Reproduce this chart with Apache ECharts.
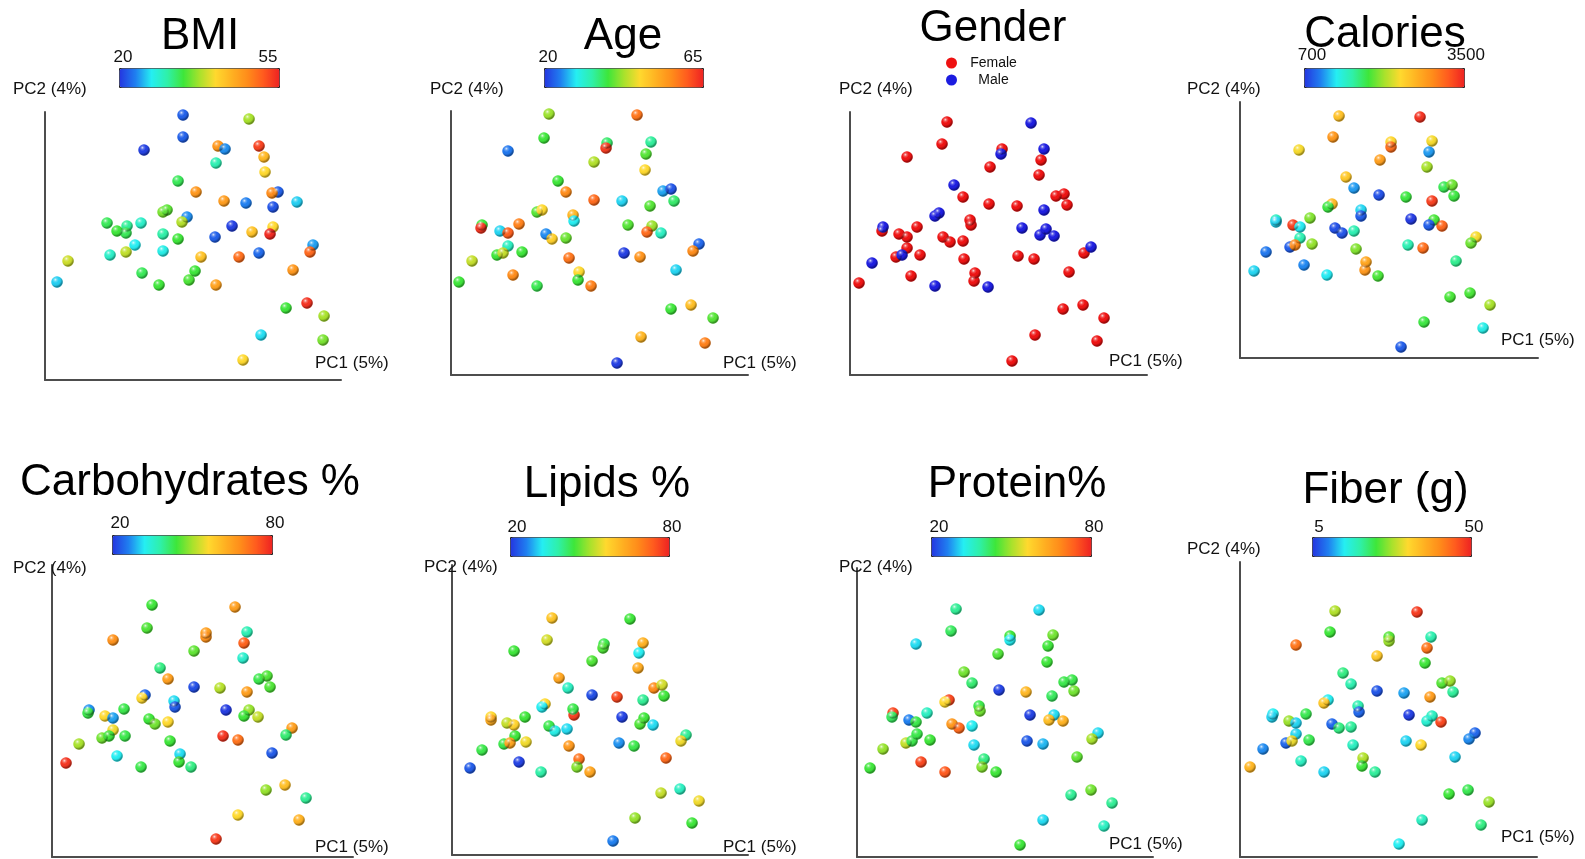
<!DOCTYPE html>
<html>
<head>
<meta charset="utf-8">
<script src="https://cdn.jsdelivr.net/npm/echarts@6/dist/echarts.min.js"></script>
<style>
  html, body { margin: 0; padding: 0; background: #ffffff; }
  #chart { width: 1585px; height: 859px; }
</style>
</head>
<body>
<div id="chart"></div>
<script>
// PCoA ordination of the cohort, shown from eight angles.
// Each sample is [PC1 score, PC2 score, value of the colouring variable].
const bmiPoints = [
  [138,265,22],[204,261,37.5],[138,243,22],[99,230,20.5],[173,234,47],[180,231,24],[214,234,53],[219,223,44],
  [171,217,30],[220,208,41],[133,199,33],[151,188,47],[233,188,22],[227,187,48],[179,179,46.5],[201,177,23.5],
  [252,178,26],[228,173,21.5],[118,168,36],[122,170,35],[142,163,24],[137,158,38],[62,157,33],[82,154,31],
  [96,157,29],[72,149,34],[81,147,33],[187,154,20.5],[228,153,41],[207,148,43],[225,146,54.5],[118,146,30.5],
  [133,141,34],[170,143,22],[90,135,27],[268,135,24.5],[265,128,50.5],[65,125,29],[81,128,38.5],[118,129,27.5],
  [156,123,43],[194,123,50],[214,127,22.5],[23,119,39],[248,110,47],[150,109,34],[12,98,26],[97,107,33],
  [144,100,34.5],[114,95,34],[171,95,46],[262,77,54],[241,72,34],[279,64,37.5],[216,45,26.5],[278,40,36],[198,20,41]
];
const agePoints = [
  [98,261,42],[186,260,58],[93,237,38],[57,224,24],[156,232,36],[155,227,63],[200,233,34],[195,221,39],
  [143,213,43],[194,205,47],[107,194,38],[115,183,56],[143,175,59],[171,174,28],[212,184,26],[220,186,22],
  [223,174,36],[199,169,39],[86,163,39],[91,165,47],[122,160,51],[123,154,29],[31,150,38],[30,147,63.5],
  [49,144,28],[57,142,60],[68,151,57],[177,150,39],[201,149,42],[196,143,59],[210,142,32],[95,141,25],
  [101,136,48],[115,137,40],[57,129,32],[46,120,38],[52,122,44],[71,123,38],[173,122,20.5],[189,118,55],
  [248,131,23],[242,124,56],[118,117,58],[21,114,44],[128,103,47],[127,95,38],[62,100,56],[225,105,28],
  [8,93,38],[86,89,37],[140,89,57],[220,66,38],[240,70,50],[262,57,39],[190,38,51],[254,32,57],[166,12,20.5]
];
// F = female, M = male
const genderPoints = [
  [97,253,'F'],[181,252,'M'],[92,231,'F'],[194,226,'M'],[152,226,'F'],[151,221,'M'],[57,218,'F'],[191,215,'F'],
  [140,208,'F'],[189,200,'F'],[104,190,'M'],[113,178,'F'],[206,179,'F'],[214,181,'F'],[139,171,'F'],[167,169,'F'],
  [217,170,'F'],[194,165,'M'],[85,159,'M'],[89,162,'M'],[120,155,'F'],[121,150,'F'],[33,148,'M'],[32,144,'F'],
  [49,141,'F'],[57,138,'F'],[67,148,'F'],[172,147,'M'],[196,146,'M'],[190,140,'M'],[204,139,'M'],[93,138,'F'],
  [100,133,'F'],[113,134,'F'],[57,127,'F'],[46,118,'F'],[52,120,'M'],[70,120,'F'],[168,119,'F'],[184,116,'F'],
  [241,128,'M'],[234,122,'F'],[114,116,'F'],[22,112,'M'],[125,102,'F'],[124,94,'F'],[61,99,'F'],[219,103,'F'],
  [9,92,'F'],[85,89,'M'],[138,88,'M'],[213,66,'F'],[233,70,'F'],[254,57,'F'],[185,40,'F'],[247,34,'F'],[162,14,'F']
];
const caloriesPoints = [
  [99,242,2550],[180,241,3420],[93,221,2850],[59,208,2350],[151,216,2400],[151,211,3100],[192,217,2350],[189,206,1050],
  [140,198,2800],[187,191,2100],[106,181,2500],[114,170,1050],[139,163,800],[166,161,1800],[204,171,1750],[212,173,1950],
  [214,162,1800],[192,157,3350],[92,154,2600],[88,151,1800],[121,148,1200],[121,142,850],[36,138,1450],[36,136,1200],
  [53,133,3350],[60,131,1250],[70,140,2000],[171,139,720],[194,138,1850],[189,133,850],[202,132,3150],[95,130,800],
  [102,125,820],[114,127,1500],[60,120,1500],[50,111,850],[55,113,2950],[72,114,2050],[168,113,1500],[183,110,3100],
  [236,121,2350],[231,115,1950],[116,109,2000],[26,106,950],[126,96,2750],[125,88,2850],[64,93,1000],[216,97,1600],
  [14,87,1200],[87,83,1250],[138,82,1850],[210,61,1850],[230,65,1850],[250,53,2100],[184,36,1800],[243,30,1300],[161,11,850]
];
const carbsPoints = [
  [100,252,44],[183,250,65],[95,229,45],[61,217,67],[154,224,65],[154,220,67],[195,225,37],[192,214,73],
  [142,206,46],[191,199,35],[108,189,40],[116,178,65],[142,170,22],[168,169,51],[207,178,43],[215,181,45],
  [218,170,45],[195,165,65],[93,162,24],[90,159,56],[122,156,31],[123,150,23],[37,147,27],[36,144,43],
  [53,141,56],[61,139,28],[72,148,43],[174,147,20.5],[197,147,49],[192,141,44],[206,140,52],[97,138,44],
  [103,133,47],[116,135,56],[61,127,55],[50,119,47],[57,121,44],[73,121,43],[171,121,78],[186,117,71],
  [240,129,65],[234,122,41],[118,116,44],[27,113,50],[128,103,31],[127,95,44],[65,101,32],[220,104,23],
  [14,94,78],[89,90,43],[139,90,40],[214,67,49],[233,72,60],[254,59,39],[186,42,56],[247,37,62],[164,18,77]
];
const lipidsPoints = [
  [100,237,59],[178,236,44],[95,215,53],[62,204,44],[152,211,43],[151,207,45],[191,212,62],[187,202,32],
  [140,194,45],[186,187,63],[107,177,64],[116,167,36],[140,160,22],[165,158,76],[202,167,68],[210,170,53],
  [212,159,44],[191,155,39],[93,151,56],[90,148,32],[122,140,77],[121,146,43],[39,138,56],[39,135,63],
  [55,132,52],[62,130,57],[73,138,44],[170,138,21],[192,137,44],[188,131,45],[201,130,31],[97,129,43],
  [103,124,33],[115,126,31],[63,119,44],[52,111,43],[58,112,64],[74,113,55],[167,112,27],[182,109,43],
  [234,120,39],[229,114,55],[117,109,66],[30,105,43],[127,96,71],[125,88,48],[67,93,21],[214,97,72],
  [18,87,23],[89,83,38],[138,83,64],[209,62,52],[228,66,36],[247,54,55],[183,37,49],[240,32,44],[161,14,26]
];
const proteinPoints = [
  [99,248,39],[182,247,31],[94,226,42],[59,213,31],[153,221,44],[153,217,32],[196,222,47],[191,211,44],
  [141,203,45],[190,195,44],[107,185,47],[115,174,41],[142,167,21],[169,165,61],[207,175,43],[215,177,43],
  [217,166,47],[195,161,42],[92,157,76],[88,155,56],[122,151,43],[123,146,47],[36,144,76],[35,140,42],
  [52,137,26],[59,135,43],[70,144,36],[173,142,21],[197,142,31],[192,137,60],[206,136,62],[95,133,66],
  [102,129,72],[115,131,32],[60,123,43],[49,114,52],[55,116,43],[73,117,44],[170,116,23],[186,113,29],
  [241,124,31],[235,118,50],[117,112,31],[26,108,49],[127,98,40],[125,90,48],[64,95,76],[220,100,46],
  [13,89,44],[88,85,74],[139,85,44],[214,62,39],[234,67,47],[255,54,39],[186,37,31],[247,31,36],[163,12,44]
];
const fiberPoints = [
  [95,246,28],[177,245,48],[90,225,23],[56,212,43],[149,220,24],[149,216,27],[191,220,18],[187,209,43],
  [137,201,34],[185,194,23],[103,184,20],[111,173,18],[137,166,7],[164,164,11],[202,174,24],[210,176,27],
  [213,165,19],[190,160,39],[88,157,14],[84,154,34],[118,151,18],[119,145,8],[33,143,14],[32,140,13],
  [49,136,27],[56,134,13],[66,143,22],[169,142,5.5],[192,141,17],[187,136,16],[201,135,47],[92,133,8],
  [99,129,20],[111,130,19],[56,123,13],[46,114,8],[52,116,31],[69,117,22],[166,116,13],[181,112,32],
  [235,124,8],[229,118,10],[113,112,17],[23,108,10],[123,99,28],[122,91,23],[61,96,17],[215,100,13],
  [10,90,36],[84,85,13],[135,85,19],[209,63,23],[228,67,22],[249,55,27],[182,37,17],[241,32,20],[159,13,14]
];

// Colour scale ranges and the labels at the ends of each colour bar
const bmiRange = [20, 55];
const ageRange = [20, 65];
const caloriesRange = [700, 3500];
const carbsRange = [20, 80];
const lipidsRange = [20, 80];
const proteinRange = [20, 80];
const fiberRange = [5, 50];
const bmiTicks = ['20', '55'];
const ageTicks = ['20', '65'];
const caloriesTicks = ['700', '3500'];
const carbsTicks = ['20', '80'];
const lipidsTicks = ['20', '80'];
const proteinTicks = ['20', '80'];
const fiberTicks = ['5', '50'];
const genderGroups = ['Female', 'Male'];
const axisNames = ['PC1 (5%)', 'PC2 (4%)'];

// ---- styling and layout ----
const FONT = '"Liberation Sans", Arial, Helvetica, sans-serif';
const RAMP = ['#2436e0', '#1f7ff0', '#25eef2', '#2ff0a8', '#3ee63a', '#a8e22c',
              '#ffd92e', '#ffb222', '#ff8c1a', '#ff5a1e', '#ee2222'];
const SEX_COLORS = { F: '#ee1111', M: '#1c1ce0' };
const DOT = 11.5;
const SHINE = new echarts.graphic.RadialGradient(0.36, 0.3, 0.62, [
  { offset: 0, color: 'rgba(255,255,255,0.85)' },
  { offset: 0.22, color: 'rgba(255,255,255,0.28)' },
  { offset: 0.5, color: 'rgba(255,255,255,0)' },
  { offset: 0.8, color: 'rgba(0,0,0,0.08)' },
  { offset: 1, color: 'rgba(0,0,0,0.35)' }
]);

const panels = [
  { title: 'BMI', points: bmiPoints, range: bmiRange, ticks: bmiTicks,
    box: { x: 45, top: 112, bottom: 380, right: 341 }, titleAt: [200, 37],
    bar: { x: 119, y: 68, w: 160, h: 19 }, lo: [123, 57], hi: [268, 57], pc2: [13, 89], pc1: [315, 363] },
  { title: 'Age', points: agePoints, range: ageRange, ticks: ageTicks,
    box: { x: 451, top: 111, bottom: 375, right: 748 }, titleAt: [623, 37],
    bar: { x: 544, y: 68, w: 159, h: 19 }, lo: [548, 57], hi: [693, 57], pc2: [430, 89], pc1: [723, 363] },
  { title: 'Gender', points: genderPoints, categorical: true,
    box: { x: 850, top: 112, bottom: 375, right: 1147 }, titleAt: [993, 29],
    pc2: [839, 89], pc1: [1109, 361] },
  { title: 'Calories', points: caloriesPoints, range: caloriesRange, ticks: caloriesTicks,
    box: { x: 1240, top: 102, bottom: 358, right: 1538 }, titleAt: [1385, 35],
    bar: { x: 1304, y: 68, w: 160, h: 19 }, lo: [1312, 55], hi: [1466, 55], pc2: [1187, 89], pc1: [1501, 340] },
  { title: 'Carbohydrates %', points: carbsPoints, range: carbsRange, ticks: carbsTicks,
    box: { x: 52, top: 565, bottom: 857, right: 353 }, titleAt: [190, 482.5],
    bar: { x: 112, y: 535, w: 160, h: 19 }, lo: [120, 523], hi: [275, 523], pc2: [13, 568], pc1: [315, 847] },
  { title: 'Lipids %', points: lipidsPoints, range: lipidsRange, ticks: lipidsTicks,
    box: { x: 452, top: 565, bottom: 855, right: 748 }, titleAt: [607, 484.5],
    bar: { x: 510, y: 537, w: 159, h: 19 }, lo: [517, 527], hi: [672, 527], pc2: [424, 567], pc1: [723, 847] },
  { title: 'Protein%', points: proteinPoints, range: proteinRange, ticks: proteinTicks,
    box: { x: 857, top: 568, bottom: 857, right: 1153 }, titleAt: [1017, 484.5],
    bar: { x: 931, y: 537, w: 160, h: 19 }, lo: [939, 527], hi: [1094, 527], pc2: [839, 567], pc1: [1109, 844] },
  { title: 'Fiber (g)', points: fiberPoints, range: fiberRange, ticks: fiberTicks,
    box: { x: 1240, top: 562, bottom: 857, right: 1537 }, titleAt: [1385.5, 490.5],
    bar: { x: 1312, y: 537, w: 159, h: 19 }, lo: [1319, 527], hi: [1474, 527], pc2: [1187, 549], pc1: [1501, 837] }
];

const grids = [], xAxes = [], yAxes = [], series = [], visualMaps = [], titles = [], graphics = [];
const axisLine = { show: true, onZero: false, lineStyle: { color: '#4d4d4d', width: 2 } };

function label(text, at, align, size) {
  return {
    type: 'text', x: at[0], y: at[1], silent: true, z: 10,
    style: { text: text, font: size + 'px ' + FONT, fill: '#111', align: align, verticalAlign: 'middle' }
  };
}

panels.forEach((p, i) => {
  const b = p.box;
  const w = b.right - b.x, h = b.bottom - b.top;
  grids.push({ left: b.x, top: b.top, width: w, height: h });
  xAxes.push({ gridIndex: i, type: 'value', min: 0, max: w, axisLine: axisLine,
    axisTick: { show: false }, axisLabel: { show: false }, splitLine: { show: false } });
  yAxes.push({ gridIndex: i, type: 'value', min: 0, max: h, axisLine: axisLine,
    axisTick: { show: false }, axisLabel: { show: false }, splitLine: { show: false } });

  titles.push({
    text: p.title, left: p.titleAt[0], top: p.titleAt[1], padding: 0,
    textAlign: 'center', textVerticalAlign: 'middle',
    textStyle: { fontFamily: FONT, fontSize: 44, fontWeight: 'normal', color: '#000' }
  });

  if (p.categorical) {
    genderGroups.forEach(g => {
      const code = g.charAt(0);
      series.push({
        type: 'scatter', name: g, xAxisIndex: i, yAxisIndex: i, silent: true,
        symbolSize: DOT, data: p.points.filter(d => d[2] === code),
        itemStyle: { color: SEX_COLORS[code], opacity: 1 }
      });
    });
  } else {
    const idx = series.length;
    series.push({
      type: 'scatter', name: p.title, xAxisIndex: i, yAxisIndex: i, silent: true,
      symbolSize: DOT, data: p.points, itemStyle: { opacity: 1 }
    });
    visualMaps.push({
      type: 'continuous', min: p.range[0], max: p.range[1], dimension: 2, seriesIndex: idx,
      orient: 'horizontal', left: p.bar.x, top: p.bar.y, itemWidth: p.bar.h, itemHeight: p.bar.w,
      calculable: false, hoverLink: false, padding: 0, borderColor: '#222', borderWidth: 1,
      inRange: { color: RAMP }
    });
    graphics.push(label(p.ticks[0], p.lo, 'center', 17));
    graphics.push(label(p.ticks[1], p.hi, 'center', 17));
  }
  // specular highlight on every sphere
  series.push({
    type: 'scatter', xAxisIndex: i, yAxisIndex: i, silent: true, symbolSize: DOT,
    data: p.points, itemStyle: { color: SHINE, opacity: 1 }
  });

  graphics.push(label(axisNames[1], p.pc2, 'left', 17));
  graphics.push(label(axisNames[0], p.pc1, 'left', 17));
});

const chart = echarts.init(document.getElementById('chart'), null, { renderer: 'canvas' });
chart.setOption({
  animation: false,
  backgroundColor: '#ffffff',
  textStyle: { fontFamily: FONT },
  title: titles,
  grid: grids,
  xAxis: xAxes,
  yAxis: yAxes,
  visualMap: visualMaps,
  legend: {
    data: genderGroups, orient: 'vertical', left: 946, top: 56, padding: 0,
    itemWidth: 11, itemHeight: 11, itemGap: 3, icon: 'circle', selectedMode: false,
    formatter: '{n|{name}}',
    textStyle: { color: '#111', fontSize: 14, rich: { n: { width: 63, align: 'center', fontSize: 14, fontFamily: FONT } } }
  },
  series: series,
  graphic: graphics
});
</script>
</body>
</html>
